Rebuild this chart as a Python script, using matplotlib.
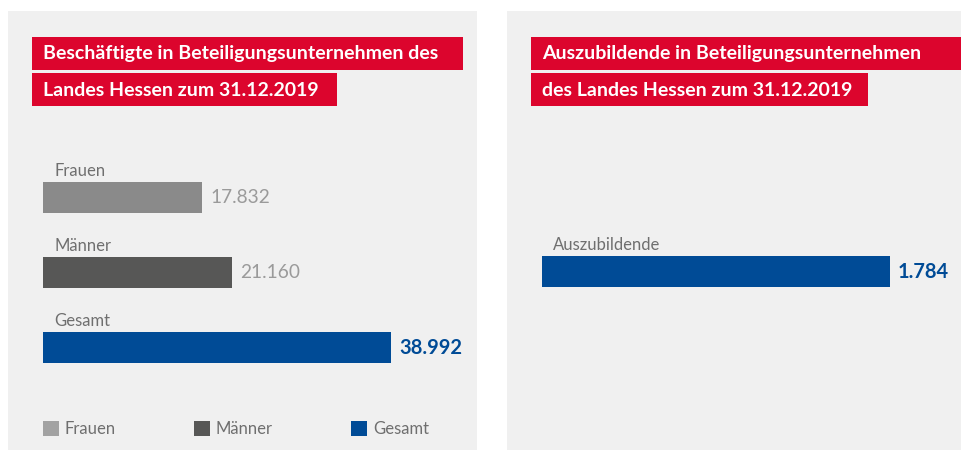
import matplotlib.pyplot as plt
from matplotlib.patches import Rectangle, Patch

# Daten
kategorien = ["Frauen", "Männer", "Gesamt"]
beschaeftigte = [17832, 21160, 38992]
wert_labels = ["17.832", "21.160", "38.992"]
azubi_kategorie = ["Auszubildende"]
azubis = [1784]
azubi_labels = ["1.784"]

GRAU_HELL = "#8a8a8a"
GRAU_LEGENDE = "#a2a2a2"
GRAU_DUNKEL = "#575756"
BLAU = "#004b96"
ROT = "#dc052d"
HINTERGRUND = "#f0f0f0"
TEXT_GRAU = "#6f6f6f"
WERT_GRAU = "#9a9a9a"

plt.rcParams["font.family"] = ["Lato", "DejaVu Sans"]

W, H = 961, 450
fig = plt.figure(figsize=(W / 100, H / 100), dpi=100)
fig.patch.set_facecolor("white")

# Hintergrund-Achse in Pixelkoordinaten (y nach unten)
bg = fig.add_axes([0, 0, 1, 1], zorder=0)
bg.set_xlim(0, W)
bg.set_ylim(H, 0)
bg.axis("off")

bg.add_patch(Rectangle((8, 11), 469, 440, color=HINTERGRUND, lw=0))
bg.add_patch(Rectangle((507, 11), 454, 440, color=HINTERGRUND, lw=0))


def titelbox(x, y, breite, text):
    bg.add_patch(Rectangle((x, y), breite, 33, color=ROT, lw=0))
    bg.text(x + 11, y + 17, text, color="white", fontsize=14,
            fontweight="bold", va="center")


titelbox(32, 37, 431, "Beschäftigte in Beteiligungsunternehmen des")
titelbox(32, 73, 305, "Landes Hessen zum 31.12.2019")
titelbox(531, 37, 430, "Auszubildende in Beteiligungsunternehmen")
titelbox(531, 73, 337, "des Landes Hessen zum 31.12.2019")

BALKEN_H = 31 / 75


def balken_panel(ax, namen, werte, labels, farben, wert_farben, wert_fett):
    ax.barh(range(len(werte)), werte, height=BALKEN_H, color=farben)
    ax.set_xlim(0, max(werte))
    ax.set_ylim(len(werte) - 0.5, -0.5)
    ax.axis("off")
    ax.patch.set_alpha(0)
    for i, (n, v, lab) in enumerate(zip(namen, werte, labels)):
        ax.annotate(n, xy=(0, i - BALKEN_H / 2), xytext=(11, 6),
                    textcoords="offset pixels", color=TEXT_GRAU,
                    fontsize=12, va="baseline", annotation_clip=False)
        ax.annotate(lab, xy=(v, i), xytext=(8, 0), textcoords="offset pixels",
                    color=wert_farben[i],
                    fontsize=14.5 if wert_fett[i] else 13.8,
                    fontweight="bold" if wert_fett[i] else "normal",
                    va="center", annotation_clip=False)


# linkes Panel: Balken von x=43 bis 391, Kategorien im Abstand von 75 px
ax1 = fig.add_axes([43 / W, (H - 385) / H, 348 / W, 225 / H], zorder=1)
balken_panel(ax1, kategorien, beschaeftigte, wert_labels,
             [GRAU_HELL, GRAU_DUNKEL, BLAU],
             [WERT_GRAU, WERT_GRAU, BLAU], [False, False, True])

# rechtes Panel
ax2 = fig.add_axes([542 / W, (H - 309) / H, 348 / W, 75 / H], zorder=1)
balken_panel(ax2, azubi_kategorie, azubis, azubi_labels,
             [BLAU], [BLAU], [True])

# Legende links unten
handles = [Patch(color=c, lw=0) for c in [GRAU_LEGENDE, GRAU_DUNKEL, BLAU]]
fig.legend(handles, kategorien, loc="center left",
           bbox_to_anchor=(43 / W, (H - 429) / H), ncol=3, frameon=False,
           fontsize=12, labelcolor=TEXT_GRAU, borderpad=0, borderaxespad=0,
           handlelength=0.95, handleheight=1.05, handletextpad=0.35,
           columnspacing=4.7)

fig.savefig("out.png", dpi=100)
